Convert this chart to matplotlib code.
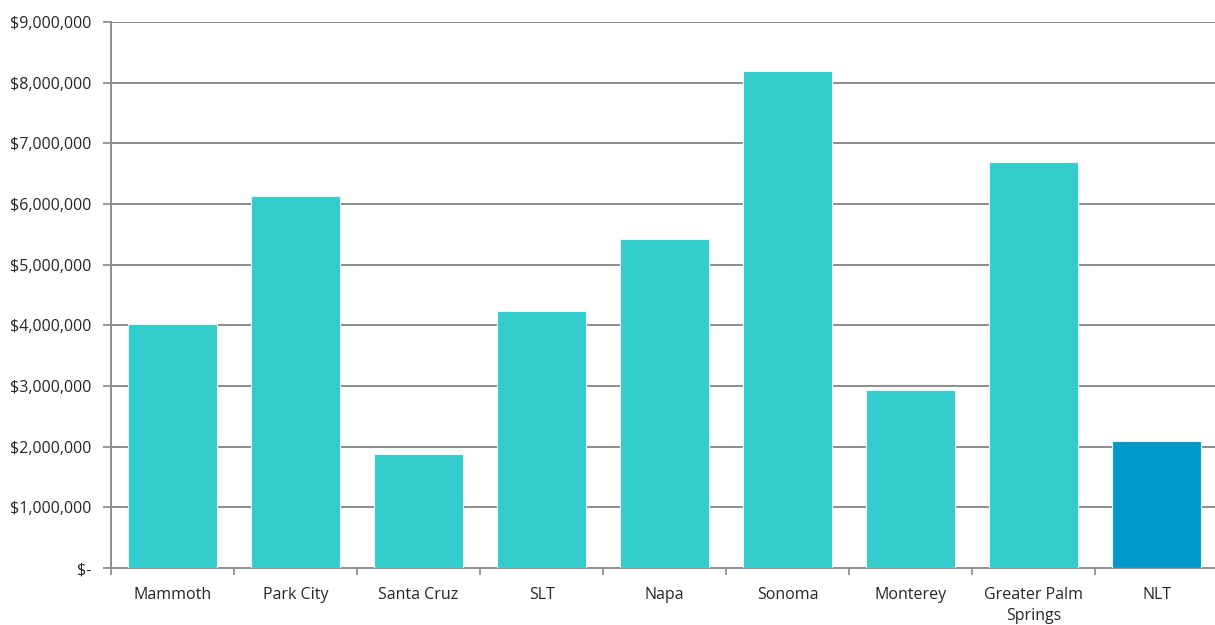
import matplotlib.pyplot as plt
from matplotlib.ticker import FuncFormatter

# 地域名と金額
cities = ["Mammoth", "Park City", "Santa Cruz", "SLT", "Napa", "Sonoma",
          "Monterey", "Greater Palm\nSprings", "NLT"]
values = [4020000, 6140000, 1875000, 4240000, 5420000, 8190000,
          2930000, 6690000, 2100000]
colors = ["#33CCCC"] * 8 + ["#0099CC"]


def money(v, pos):
    if v == 0:
        return "$-"
    return f"${v:,.0f}"


def main():
    plt.rcParams["font.family"] = ["Open Sans", "DejaVu Sans"]
    fig = plt.figure(figsize=(12.15, 6.25), dpi=100)
    ax = fig.add_axes([111 / 1215, 1 - 568 / 625, 1107 / 1215, 546 / 625])

    x = range(len(cities))
    ax.bar(x, values, width=0.72, color=colors, edgecolor="#E8F8F8",
           linewidth=0.8, zorder=3)

    ax.set_xlim(-0.5, len(cities) - 0.5)
    ax.set_ylim(0, 9000000)
    ax.set_yticks(range(0, 9000001, 1000000))
    ax.yaxis.set_major_formatter(FuncFormatter(money))

    # 目盛りはカテゴリの境目に
    ax.set_xticks([i - 0.5 for i in range(len(cities) + 1)])
    ax.set_xticklabels([])
    ax.set_xticks(list(x), minor=True)
    ax.set_xticklabels(cities, minor=True, fontsize=11.5, color="#262626",
                       linespacing=1.4)
    ax.tick_params(axis="x", which="minor", length=0, pad=14)
    ax.tick_params(axis="x", which="major", length=5, color="#888888",
                   width=1.2)
    ax.tick_params(axis="y", length=6, color="#888888", width=1.2,
                   labelsize=11.5, labelcolor="#262626", pad=8)

    ax.grid(axis="y", color="#8C8C8C", linewidth=1.4, zorder=0)
    for side in ["top", "right"]:
        ax.spines[side].set_visible(False)
    ax.spines["left"].set_color("#8C8C8C")
    ax.spines["left"].set_linewidth(1.4)
    ax.spines["bottom"].set_color("#8C8C8C")
    ax.spines["bottom"].set_linewidth(1.4)

    fig.savefig("out.png", dpi=100)


if __name__ == "__main__":
    main()
